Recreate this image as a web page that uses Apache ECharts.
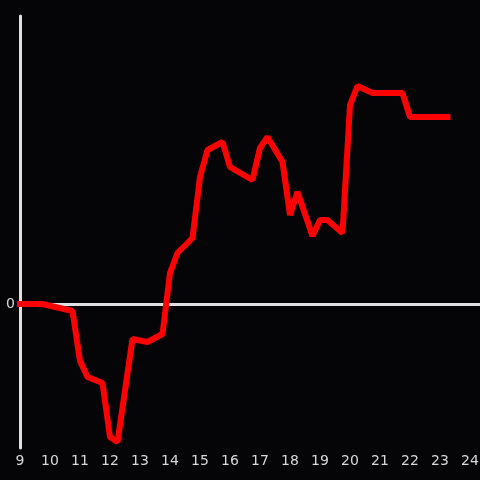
<!DOCTYPE html>
<html>
<head>
<meta charset="utf-8">
<script src="https://cdn.jsdelivr.net/npm/echarts@6/dist/echarts.min.js"></script>
<style>
html,body{margin:0;padding:0;background:#050407;}
#chart{width:480px;height:480px;}
</style>
</head>
<body>
<div id="chart"></div>
<script>
// hours (quarter-hour steps) and values
var hours = [9, 9.75, 10.75, 11, 11.25, 11.75, 12, 12.25, 12.75, 13.25, 13.75, 14, 14.25, 14.75, 15, 15.25, 15.75, 16, 16.75, 17, 17.25, 17.75, 18, 18.25, 18.75, 19, 19.25, 19.75, 20, 20.25, 20.75, 21.75, 22, 23.25];
var values = [0, 0, -7, -57, -73, -79, -133, -138, -35, -38, -30, 31, 51, 66, 127, 154, 162, 137, 124, 156, 167, 142, 89, 112, 68, 84, 84, 71, 199, 218, 211, 211, 187, 187];
var xTicks = [9, 10, 11, 12, 13, 14, 15, 16, 17, 18, 19, 20, 21, 22, 23, 24];

var data = [];
for (var i = 0; i < hours.length; i++) {
	data.push([hours[i], values[i]]);
}

var chart = echarts.init(document.getElementById('chart'));
var option = {
	backgroundColor: '#050407',
	animation: false,
	grid: { left: 20, right: 0, top: 16, bottom: 32, containLabel: false, outerBoundsMode: 'none' },
	xAxis: [{
		type: 'value',
		min: 9,
		max: 24 + 1 / 3,
		interval: 1,
		position: 'bottom',
		axisLine: { show: false },
		axisTick: { show: false },
		splitLine: { show: false },
		axisLabel: {
			color: '#d8d8d8',
			fontSize: 14,
			fontFamily: 'DejaVu Sans',
			margin: 6,
			showMaxLabel: false,
			formatter: function (v) {
				return xTicks.indexOf(v) >= 0 ? String(v) : '';
			}
		}
	}, {
		type: 'value',
		min: 9,
		max: 24 + 1 / 3,
		axisLine: { show: true, onZero: true, onZeroAxisIndex: 0, lineStyle: { color: '#e0e0e0', width: 3 } },
		axisTick: { show: false },
		axisLabel: { show: false },
		splitLine: { show: false }
	}],
	yAxis: {
		type: 'value',
		min: -144,
		max: 288,
		interval: 144,
		axisLine: { show: true, lineStyle: { color: '#e0e0e0', width: 3 } },
		axisTick: { show: false },
		splitLine: { show: false },
		axisLabel: {
			color: '#d8d8d8',
			fontSize: 14,
			fontFamily: 'DejaVu Sans',
			margin: 5,
			formatter: function (v) { return v === 0 ? '0' : ''; }
		}
	},
	series: [{
		type: 'line',
		data: data,
		showSymbol: false,
		lineStyle: { color: '#ff0000', width: 6, cap: 'square' },
		z: 1
	}]
};
chart.setOption(option);
</script>
</body>
</html>
